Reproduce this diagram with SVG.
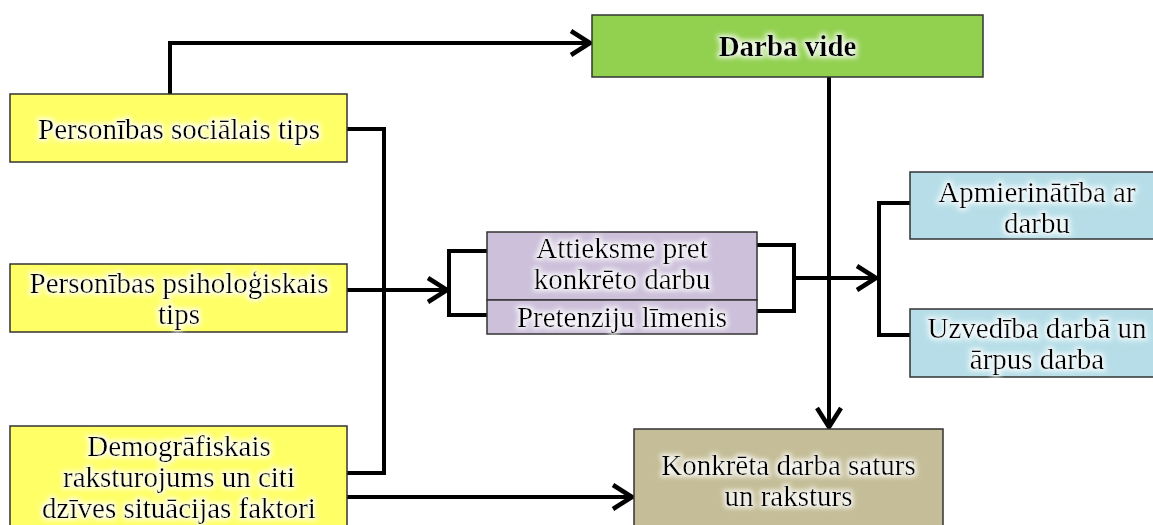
<svg xmlns="http://www.w3.org/2000/svg" width="1153" height="525" viewBox="0 0 1153 525">
<defs>
<style>
.box{stroke:#333;stroke-width:1.5}
.t{font-family:"Liberation Serif","Times New Roman",serif;font-size:29px;fill:#000;text-anchor:middle;dominant-baseline:central;filter:url(#glow)}
.b{font-weight:bold}
.c{fill:none;stroke:#000;stroke-width:4;stroke-linejoin:miter}
</style>
<filter id="glow" x="-20%" y="-40%" width="140%" height="180%">
<feMorphology in="SourceAlpha" operator="dilate" radius="1.5" result="d"/>
<feGaussianBlur in="d" stdDeviation="2.5" result="bl"/>
<feFlood flood-color="#ffffff" flood-opacity="0.85"/>
<feComposite in2="bl" operator="in" result="g"/>
<feMerge><feMergeNode in="g"/><feMergeNode in="SourceGraphic"/></feMerge>
</filter>
<marker id="arr" markerUnits="userSpaceOnUse" markerWidth="30" markerHeight="30" viewBox="-22 -15 26 30" refX="0" refY="0" orient="auto">
<path d="M-19,-12 L0,0 L-19,12" fill="none" stroke="#000" stroke-width="4.5"/>
</marker>
</defs>
<rect width="1153" height="525" fill="#fff"/>
<g id="connectors">
<path class="c" d="M170,94 V43 H590" marker-end="url(#arr)"/>
<path class="c" d="M347,129 H384 V473 H347"/>
<path class="c" d="M347,290 H447" marker-end="url(#arr)"/>
<path class="c" d="M487,251 H449 V315 H487"/>
<path class="c" d="M757,245 H794 V311 H757"/>
<path class="c" d="M794,278 H876" marker-end="url(#arr)"/>
<path class="c" d="M910,203 H879 V335 H910"/>
<path class="c" d="M829,77 V427" marker-end="url(#arr)"/>
<path class="c" d="M347,497 H632" marker-end="url(#arr)"/>
</g>
<g id="n-darba-vide">
<rect class="box" x="592" y="15" width="391" height="62" fill="#92D050"/>
<text class="t b" x="787.5" y="46">Darba vide</text>
</g>
<g id="n-soc-tips">
<rect class="box" x="10" y="94" width="337" height="68" fill="#FFFF66"/>
<text class="t" x="179" y="129">Personības sociālais tips</text>
</g>
<g id="n-psih-tips">
<rect class="box" x="10" y="264" width="337" height="68" fill="#FFFF66"/>
<text class="t" x="179" y="283">Personības psiholoģiskais</text>
<text class="t" x="179" y="314">tips</text>
</g>
<g id="n-demogr">
<rect class="box" x="10" y="426" width="337" height="110" fill="#FFFF66"/>
<text class="t" x="179" y="446">Demogrāfiskais</text>
<text class="t" x="179" y="477">raksturojums un citi</text>
<text class="t" x="179" y="508">dzīves situācijas faktori</text>
</g>
<g id="n-attieksme">
<rect class="box" x="487" y="232" width="270" height="68" fill="#CCC0DA"/>
<text class="t" x="622" y="248">Attieksme pret</text>
<text class="t" x="622" y="279">konkrēto darbu</text>
</g>
<g id="n-pretenziju">
<rect class="box" x="487" y="300" width="270" height="34" fill="#CCC0DA"/>
<text class="t" x="622" y="317">Pretenziju līmenis</text>
</g>
<g id="n-apmier">
<rect class="box" x="910" y="172" width="255" height="67" fill="#B7DEE8"/>
<text class="t" x="1037" y="192">Apmierinātība ar</text>
<text class="t" x="1037" y="223">darbu</text>
</g>
<g id="n-uzvediba">
<rect class="box" x="910" y="309" width="255" height="68" fill="#B7DEE8"/>
<text class="t" x="1037" y="328">Uzvedība darbā un</text>
<text class="t" x="1037" y="359">ārpus darba</text>
</g>
<g id="n-konkreta">
<rect class="box" x="634" y="429" width="309" height="110" fill="#C4BD97"/>
<text class="t" x="788.5" y="465">Konkrēta darba saturs</text>
<text class="t" x="788.5" y="496">un raksturs</text>
</g>
</svg>
